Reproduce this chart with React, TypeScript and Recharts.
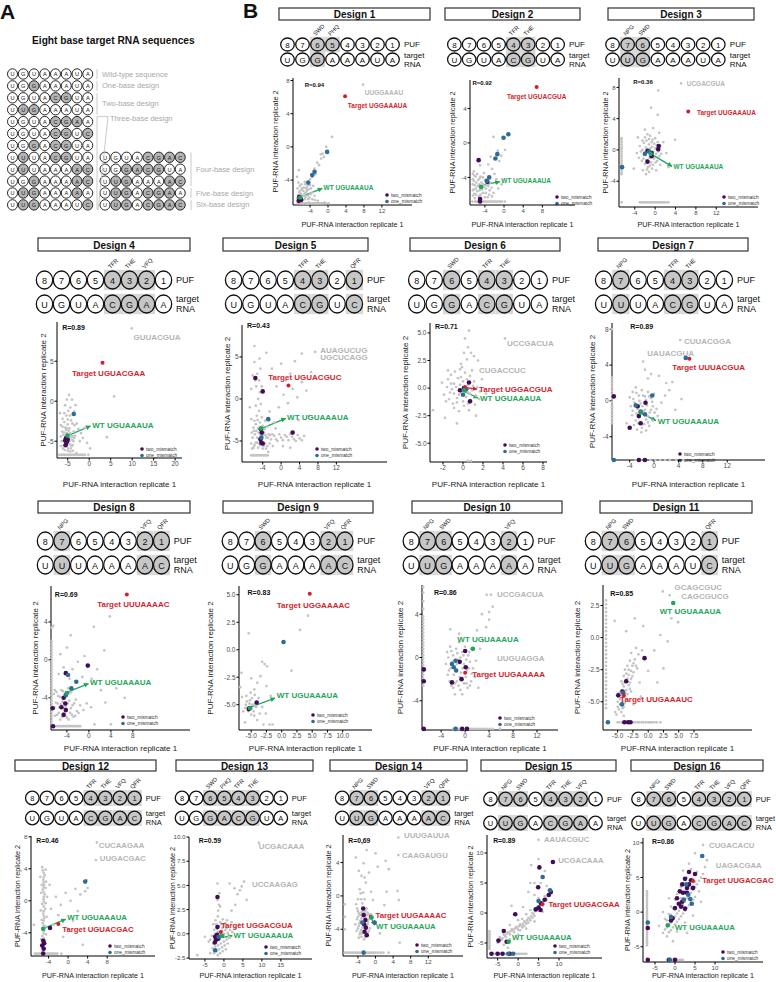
import React from 'react';
import { ScatterChart, Scatter, XAxis, YAxis, ReferenceLine } from 'recharts';

type P = [number, number];
type Note = { x: number; y: number; t: string; c: 'k' | 's' | 'r' | 'g'; a?: 'start' | 'middle' };
type Arrow = { f: P; to: P; c: 'g' | 'r' };

const COL = { grey: '#c4c4c4', two: '#420d57', one: '#2f6b95', red: '#d21f2e', green: '#1fa65a', seq: '#b5b5b5', k: '#111111' };
const FONT = '"Liberation Sans", Arial, Helvetica, sans-serif';

// ---------------- Panel A ----------------
const seqLeft = ['UGUAAAUA', 'UGGAAAUA', 'UGUACGUA', 'UUGAAAUA', 'UGUACGAA', 'UGUACGUC', 'UGGACGUA', 'UUUACGUA', 'UUUAAAAC', 'UGGAAAAC', 'UUGAAAAA', 'UUGAAAUC'];
const hlLeft: number[][] = [[], [2], [4, 5], [1, 2], [4, 5, 6], [4, 5, 7], [2, 4, 5], [1, 4, 5], [1, 6, 7], [2, 6, 7], [1, 2, 6], [1, 2, 7]];
const seqRight = ['UGUACGAC', 'UGGACGUA', 'UUGAAAAC', 'UUGACGAA', 'UUGACGAC'];
const hlRight: number[][] = [[4, 5, 6, 7], [2, 3, 4, 5], [1, 2, 6, 7], [1, 2, 4, 5, 6], [1, 2, 4, 5, 6, 7]];
const groupLeft = ['Wild-type sequence', 'One-base design', 'Two-base design', 'Three-base design'];
const groupRight = ['Four-base design', 'Five-base design', 'Six-base design'];
const pufTags: Record<number, string> = { 1: 'NPG', 2: 'SWD', 3: 'PHQ', 4: 'TFR', 5: 'THE', 6: 'VFQ', 7: 'QFR' };

// ---------------- Design data ----------------
const d1Grey: P[] = [[-6.8,-6.8],[-6.5,-6.6],[-6.2,-6.8],[-5.8,-6.7],[-5.4,-6.8],[-5,-6.8],[-4.6,-6.8],[-4.2,-6.7],[-3.8,-6.8],[-3.2,-6.8],[-2.6,-6.8],[-2,-6.8],[-1.4,-6.8],[-0.8,-6.7],[-6.8,-6.2],[-6.6,-5.8],[-6.4,-5.4],[-6.8,-5],[-6.3,-4.7],[-6,-5.2],[-5.7,-5.8],[-5.5,-5.3],[-5.2,-5.6],[-5,-6.1],[-4.8,-5.4],[-4.5,-5.9],[-4.3,-5.1],[-4.7,-4.8],[-5.9,-4.5],[-6.6,-4.3],[-6.9,-3.6],[-6.5,-2.8],[-5.2,-4.2],[-4,-4.6],[-3.5,-5.5],[-3,-5.9],[-6.1,-6.3],[-5.6,-6.4],[-5.2,-6.3],[-4.4,-6.3],[-3.6,-3.6],[-3,-2.6],[-2.4,-1.9],[-2,-2.2],[-1.5,-1.4],[-1.2,-0.8],[-0.4,0],[-0.9,-1.2],[0.9,1.2],[-1.6,-0.9],[-2.8,-3.3],[-4,-3.9],[7.8,7.5]];
const d1GreyCore: P[] = [[-6.9,-6.5],[-6.7,-6.1],[-6.3,-6.0],[-5.9,-6.1],[-5.6,-5.9],[-5.3,-5.9],[-5.0,-5.6],[-4.6,-5.2],[-4.9,-5.0],[-5.4,-4.9],[-5.8,-5.0],[-6.1,-5.6],[-6.4,-6.3],[-5.1,-4.5],[-4.4,-4.6],[-3.8,-5.0],[-3.3,-4.7],[-3.9,-5.7],[-4.1,-6.1],[-3.5,-6.3],[-2.9,-6.4],[-2.3,-6.5],[-1.7,-6.8],[-1.1,-6.8],[-0.5,-6.8],[0.1,-6.8],[-6.0,-6.8],[-5.6,-6.8],[-4.8,-6.8],[-4.4,-6.8],[-4.0,-6.8],[-3.5,-6.8],[-2.9,-6.8],[-2.3,-6.8]];
const d1Two: P[] = [[-6.4,-6.0],[-6.0,-6.4],[-6.5,-6.5],[-6.2,-6.2]];
const d1One: P[] = [[-0.2,-0.6],[-3.0,-3.0],[-3.5,-3.4],[-4.4,-4.3]];
const d1Target: P[] = [[3.8,6.1]];
const d1WT: P[] = [[-6.2,-6.1]];
const d1Notes: Note[] = [
  { x: -5.2, y: 7.5, t: 'R=0.94', c: 'k' },
  { x: 8.2, y: 6.6, t: 'UUGGAAAU', c: 's' },
  { x: 4.4, y: 5.0, t: 'Target UGGAAAUA', c: 'r' },
  { x: -1.0, y: -4.9, t: 'WT UGUAAAUA', c: 'g' },
];
const d1Arrows: Arrow[] = [{ f: [-5.9, -6.0], to: [-1.3, -5.0], c: 'g' }];

const d2Grey: P[] = [[-6.3,-3.3],[-6.2,-3.8],[-6.3,-4.4],[-6.1,-4.9],[-6.3,-5.4],[-6.2,-5.9],[-6.1,-6.4],[-5.6,-3.6],[-5.4,-4.3],[-5.5,-5.0],[-5.6,-5.6],[-5.3,-6.2],[-4.9,-3.9],[-4.7,-4.6],[-4.6,-5.4],[-4.9,-6.0],[-4.2,-5.1],[-4.0,-4.3],[-3.8,-5.8],[-3.6,-4.9],[-3.4,-6.3],[-3.0,-5.5],[-2.8,-4.6],[-5.8,-6.8],[-5.2,-6.8],[-4.6,-6.8],[-4,-6.8],[-3.4,-6.8],[-2.8,-6.8],[-2.2,-6.8],[-1.6,-6.8],[-1,-6.8],[-0.4,-6.8],[0.2,-6.8],[-2.2,0.7],[-1.3,-0.9],[-1.0,-2.1],[-2.5,-3.0],[-2.0,-3.6],[-1.6,-4.2],[-3.3,-2.5],[-4.2,-3.5],[-2.2,-5.8],[-1.2,-5.3],[-0.5,-4.8],[0.2,-0.8],[-0.6,-1.5],[-2.8,-1.6],[-6.6,-6.8],[-5.0,-2.6]];
const d2GreyCore: P[] = [[-6.5,-3.6],[-6.5,-4.2],[-6.5,-4.8],[-6.5,-5.5],[-6.5,-6.1],[-5.9,-3.9],[-5.8,-4.6],[-5.9,-5.3],[-5.9,-6.0],[-5.1,-4.1],[-5.2,-4.8],[-5.1,-5.5],[-5.0,-6.1],[-4.4,-4.0],[-4.3,-4.8],[-4.4,-5.8],[-4.0,-6.3],[-3.8,-5.3],[-3.3,-5.0],[-3.1,-6.0],[-2.6,-5.2],[-2.5,-6.2],[-6.0,-6.8],[-5.5,-6.8],[-4.9,-6.8],[-4.3,-6.8],[-3.7,-6.8],[-3.1,-6.8],[-2.5,-6.8],[-1.9,-6.8],[-1.3,-6.8],[-0.7,-6.8]];
const d2Two: P[] = [[-5.3,-2.0],[-3.5,-4.5],[-5.0,-6.5],[-5.0,-6.8]];
const d2One: P[] = [[0.9,1.0],[-0.1,0.6],[-1.4,-1.3],[-1.8,-1.8],[-3.1,-4.0],[-3.6,-4.4]];
const d2Target: P[] = [[6.8,6.5]];
const d2WT: P[] = [[-4.8,-5.1]];
const d2Notes: Note[] = [
  { x: -6.6, y: 6.9, t: 'R=0.92', c: 'k' },
  { x: 6.8, y: 5.4, t: 'Target UGUACGUA', c: 'r', a: 'middle' },
  { x: -0.6, y: -4.4, t: 'WT UGUAAAUA', c: 'g' },
];
const d2Arrows: Arrow[] = [{ f: [-4.5, -4.9], to: [-0.9, -4.5], c: 'g' }];

const d3Grey: P[] = [[-2.5,1.2],[-2,1.6],[-1.5,2.0],[-1,1.8],[-0.5,1.3],[0,1.5],[0.5,1.0],[1,0.5],[-3,0.5],[-2.8,-0.2],[-2.2,-0.6],[-1.8,0.3],[-1.2,0.7],[-0.6,0.4],[0,0.2],[0.6,-0.2],[1.2,-0.5],[-3.2,-1],[-2.6,-1.4],[-2,-1.8],[-1.4,-2.2],[-0.8,-1.6],[-0.2,-1.1],[0.4,-1.4],[1,-1.9],[-2.4,-2.6],[-1.8,-3.1],[-1.2,-2.8],[-0.6,-2.4],[0.2,-2.6],[-3.6,-0.4],[-3.4,1.6],[-2,2.6],[-0.4,2.8],[0.8,2.2],[1.6,1.0],[2.2,-0.4],[3.9,1.3],[2.6,-2.2],[-0.8,5.4],[0.5,4.5],[0.6,7.6],[-4.2,-2.4],[-6.6,1.5],[-6.6,1.0],[-6.6,0.4],[-6.6,-0.2],[-6.6,-0.8],[-6.6,-1.4],[-6.6,-2.0],[-6.6,-2.6],[-6.6,-3.1],[-6.6,-6.7],[-3,-6.7],[-2.4,-6.7],[-1.8,-6.7],[-1.2,-6.7],[-0.6,-6.7],[0,-6.7],[0.6,-6.7],[1.2,-6.7],[1.8,-6.7],[2.6,-6.7],[5.1,8.5]];
const d3GreyCore: P[] = [[-2.2,0.9],[-1.7,1.2],[-1.2,1.4],[-0.7,1.0],[-0.2,0.8],[0.3,0.6],[-2.5,0.0],[-2.0,-0.3],[-1.5,0.0],[-1.0,0.2],[-0.4,-0.2],[0.2,-0.5],[0.8,-0.8],[-2.3,-1.1],[-1.7,-1.3],[-1.1,-1.0],[-0.5,-0.7],[0.1,-1.6],[-1.6,-2.5],[-1.0,-2.0],[-0.4,-1.9],[-6.6,1.3],[-6.6,0.7],[-6.6,0.1],[-6.6,-0.5],[-6.6,-1.1],[-6.6,-1.7],[-6.6,-2.3],[-6.6,-2.9],[-2.7,-6.7],[-2.1,-6.7],[-1.5,-6.7],[-0.9,-6.7],[-0.3,-6.7],[0.3,-6.7],[0.9,-6.7],[1.5,-6.7],[2.2,-6.7]];
const d3Two: P[] = [[0.7,0.5],[0.6,0.1],[-0.7,-0.4],[-1.5,-0.1],[-0.7,-0.8],[-1.5,-1.5]];
const d3One: P[] = [[-6.5,-2.2],[-2,-0.5],[-1.2,-0.2]];
const d3Target: P[] = [[6.5,4.9]];
const d3WT: P[] = [[-0.9,-0.5]];
const d3Notes: Note[] = [
  { x: -4.3, y: 8.7, t: 'R=0.36', c: 'k' },
  { x: 6.2, y: 8.5, t: 'UCGACGUA', c: 's' },
  { x: 8.2, y: 4.8, t: 'Target UUGAAAUA', c: 'r' },
  { x: 3.6, y: -2.1, t: 'WT UGUAAAUA', c: 'g' },
];
const d3Arrows: Arrow[] = [{ f: [-0.6, -0.6], to: [3.3, -2.1], c: 'g' }];

const d4Grey: P[] = [[-6.2,-3.2],[-5.8,-2.6],[-5.4,-3.6],[-5,-2.9],[-4.6,-3.4],[-4.2,-2.4],[-6,-4.2],[-5.6,-4.6],[-5.2,-4],[-4.8,-4.4],[-4.4,-4],[-4,-4.8],[-3.6,-3.8],[-6.4,-5],[-5.9,-5.5],[-5.5,-5.2],[-4.9,-5.9],[-4.5,-5.4],[-4.1,-5.6],[-3.7,-5],[-3.3,-4.3],[-5.3,-1.8],[-4.9,-1.2],[-5.6,-0.5],[-4.4,-0.8],[-4.7,0.8],[-3.2,-0.5],[-3.5,-1.3],[-2.9,-2.8],[-2.5,-3.5],[-1.9,-4],[-1,-3.3],[-2.2,-5],[-1.5,-4.6],[-0.5,-5.2],[0.2,-5.9],[-3.8,-6.2],[-3,-6.5],[-7,-6.7],[-6.4,-6.7],[-5.8,-6.7],[-5.2,-6.7],[-4.6,-6.7],[-4,-6.7],[-3.4,-6.7],[-2.8,-6.7],[-2.2,-6.7],[-1.6,-6.7],[-1,-6.7],[-0.2,-6.7],[5.8,0.6],[4.1,-4.5],[9.9,9.1],[-6.8,-1.5],[-5.2,0.2],[-4,0.2]];
const d4GreyCore: P[] = [[-6.6,-4.4],[-6.3,-3.8],[-5.9,-3.9],[-5.6,-3.3],[-5.2,-3.4],[-4.8,-3.7],[-4.5,-4.5],[-4.2,-4.4],[-3.8,-4.4],[-3.5,-4.6],[-4.6,-5.0],[-4.3,-5.9],[-3.9,-5.5],[-6.1,-5.9],[-5.7,-6.1],[-5.0,-6.2],[-4.4,-6.3],[-6.6,-5.6],[-6.6,-3.0],[-6.2,-2.2],[-5.8,-1.5],[-5.0,-2.3],[-4.5,-1.8],[-3.9,-2.8],[-3.4,-3.0],[-6.7,-6.7],[-6.1,-6.7],[-5.5,-6.7],[-4.9,-6.7],[-4.3,-6.7],[-3.7,-6.7],[-3.1,-6.7],[-2.5,-6.7],[-1.9,-6.7],[-1.3,-6.7]];
const d4Two: P[] = [[-5.4,-4.6],[-5.2,-5.0],[-5.5,-5.5],[-5.0,-4.8],[-5.3,-5.2],[-5.6,-4.9]];
const d4One: P[] = [[-3.6,-1.6]];
const d4Target: P[] = [[3.1,4.8]];
const d4WT: P[] = [[-5.1,-4.3]];
const d4Notes: Note[] = [
  { x: -6.3, y: 9.2, t: 'R=0.89', c: 'k' },
  { x: 10.3, y: 8.0, t: 'GUUACGUA', c: 's' },
  { x: -4.0, y: 3.5, t: 'Target UGUACGAA', c: 'r' },
  { x: 0.7, y: -3.0, t: 'WT UGUAAAUA', c: 'g' },
];
const d4Arrows: Arrow[] = [{ f: [-5.0, -4.3], to: [0.3, -3.1], c: 'g' }];

const d5Grey: P[] = [[-6,-5.8],[-5.5,-5.2],[-5,-5.8],[-4.5,-5.5],[-4,-5.9],[-3.5,-5.3],[-3,-5.6],[-6.2,-4.6],[-5.7,-4.2],[-5.2,-4.6],[-4.7,-4.1],[-4.2,-4.5],[-3.7,-4],[-3.2,-4.6],[-2.7,-4.2],[-6,-3.4],[-5.5,-3],[-5,-3.5],[-4.6,-2.8],[-4,-3.2],[-3.5,-2.6],[-3,-3.3],[-5.3,-2],[-4.8,-1.4],[-4.4,-0.6],[-5,0],[-4.6,0.8],[-5.4,1.5],[-4.8,2.2],[-5.2,3],[-4.5,3.6],[-5.8,4.4],[-4.7,4.8],[-6.5,1.2],[-6.8,-1],[-6.5,-2.4],[-6.5,-6.7],[-5.9,-6.7],[-5.3,-6.7],[-4.7,-6.7],[-4.1,-6.7],[-3.5,-6.7],[-2.9,-6.7],[-2.2,-4.8],[-1.5,-4.4],[-0.8,-5],[0,-4.6],[0.8,-4.3],[1.6,-4.9],[2.4,-4.5],[3.2,-5],[4,-4.7],[5,-4.4],[-1.8,-5.6],[0.4,-5.6],[2,-5.8],[-2.5,-1.5],[-1.5,-2.8],[-0.5,-1],[0.5,0.5],[1.5,-0.5],[2.5,1.2],[3.5,0.2],[4.5,2],[5.5,1],[6.5,3.2],[2,3],[1,2.2],[-1,1.5],[-2,3.6],[0,4.2],[3,4.5],[4.5,5.4],[7.4,5.6],[-5.8,6.3],[-3.2,5.5],[-1.2,-3.5],[3.8,-2.5],[6,-2],[-2.8,-6.3],[-6.2,2.8]];
const d5GreyCore: P[] = [[-6.5,-5.3],[-6.3,-5.9],[-5.8,-5.5],[-5.2,-5.2],[-4.8,-5.3],[-3.8,-5.6],[-3.3,-5.9],[-2.5,-5.3],[-6.4,-4.0],[-5.9,-3.8],[-5.4,-3.8],[-4.9,-4.0],[-4.4,-4.3],[-3.9,-4.3],[-3.4,-4.3],[-2.9,-4.6],[-2.4,-4.3],[-5.8,-2.6],[-5.1,-2.5],[-4.2,-2.2],[-3.6,-3.6],[-5.5,-0.8],[-4.2,1.5],[-5.6,2.2],[-1.9,-4.2],[-1.1,-4.8],[-0.4,-4.2],[0.4,-4.9],[1.2,-4.5],[2.0,-4.2],[2.8,-4.8],[3.6,-4.3],[4.5,-4.9],[-6.2,-6.7],[-5.6,-6.7],[-5.0,-6.7],[-4.4,-6.7],[-3.8,-6.7],[-3.2,-6.7]];
const d5Two: P[] = [[-5.6,2.5],[-4.0,0.9],[-4.4,-3.6],[-4.2,-4.0],[-4.5,-4.8],[-4.3,-5.2],[-4.0,-5.3],[2.5,-4.0]];
const d5One: P[] = [[-2.8,-2.4],[-4.3,-4.6]];
const d5Target: P[] = [[1.6,1.6]];
const d5WT: P[] = [[-4.4,-3.5]];
const d5Notes: Note[] = [
  { x: -7.4, y: 8.7, t: 'R=0.43', c: 'k' },
  { x: 8.5, y: 5.8, t: 'AUAGUCUG', c: 's' },
  { x: 8.5, y: 4.9, t: 'UGCUCAGG', c: 's' },
  { x: -2.8, y: 2.6, t: 'Target UGUACGUC', c: 'r' },
  { x: 1.3, y: -2.2, t: 'WT UGUAAAUA', c: 'g' },
];
const d5Arrows: Arrow[] = [{ f: [-4.2, -3.5], to: [1.0, -2.3], c: 'g' }];

const d6Grey: P[] = [[-1.5,0.8],[-1.2,1.2],[-0.8,1.5],[-0.3,1.7],[0.2,1.4],[0.7,1.1],[1.1,0.6],[1.4,0.1],[-1.6,0.1],[-1.3,-0.4],[-0.9,0.4],[-0.5,0.9],[0,0.6],[0.5,0.3],[0.9,-0.2],[1.3,-0.7],[-1.4,-1],[-1,-1.4],[-0.6,-0.9],[-0.2,-0.4],[0.3,-0.8],[0.8,-1.1],[1.2,-1.5],[-0.9,-1.8],[-0.4,-2.1],[0.1,-1.6],[0.6,-2],[-1.9,-0.6],[-2.1,0.5],[1.7,-0.3],[1.9,0.8],[-0.2,2.2],[0.4,2.6],[0.1,3.2],[0.5,3.7],[0.2,4.5],[0.6,5.2],[0.8,3.2],[1.1,2.9],[-3,-2],[-0.6,-3.2],[0.5,-6.6],[0.8,-6.6],[4.2,4.5],[1.3,-2.5],[2.3,-0.5],[-1.8,-2.7],[1.5,2.5]];
const d6GreyCore: P[] = [[-1.2,0.4],[-0.7,0.1],[-0.3,0.3],[0.3,0.1],[0.7,-0.5],[-0.9,-0.5],[-0.4,-0.6],[0.5,-0.4],[1.0,0.2],[-1.1,-0.1],[-0.2,1.0],[0.4,0.8],[-0.6,-1.3],[0.0,-1.2],[0.5,-1.4],[-1.7,-1.2],[1.6,-1.0],[-0.1,1.9],[0.9,1.6],[-1.5,1.6]];
const d6Two: P[] = [[0.6,0.5],[0.7,-1.2],[-0.3,-0.2],[0.1,0],[0.3,-0.1]];
const d6One: P[] = [[0,-0.6],[0.3,-0.1]];
const d6Target: P[] = [[0.2,0.1]];
const d6WT: P[] = [[0.1,-0.2]];
const d6Notes: Note[] = [
  { x: -2.8, y: 5.6, t: 'R=0.71', c: 'k' },
  { x: 4.4, y: 4.0, t: 'UCCGACUA', c: 's' },
  { x: 1.6, y: 1.6, t: 'CUGACCUC', c: 's' },
  { x: 1.6, y: -0.1, t: 'Target UGGACGUA', c: 'r' },
  { x: 1.7, y: -0.9, t: 'WT UGUAAAUA', c: 'g' },
];
const d6Arrows: Arrow[] = [
  { f: [0.3, 0.05], to: [1.4, -0.1], c: 'r' },
  { f: [0.1, -0.3], to: [1.5, -0.9], c: 'g' },
];

const d7Grey: P[] = [[-6.9,2.6],[-6.9,2.0],[-6.9,1.4],[-6.9,0.8],[-6.9,0.2],[-6.9,-0.4],[-6.9,-1.0],[-6.9,-1.6],[-6.9,-2.2],[-6.9,8.0],[-4,0.4],[-3.5,1],[-3,1.5],[-2.5,0.6],[-2,1.2],[-1.5,0.5],[-1,1.0],[-0.5,0.3],[0,0.8],[-3.8,-0.6],[-3.2,-0.2],[-2.7,-0.9],[-2.2,-0.3],[-1.7,-1.1],[-1.2,-0.5],[-0.7,-1.3],[-0.2,-0.6],[0.4,-0.9],[-3.6,-1.6],[-3,-2.2],[-2.4,-1.8],[-1.9,-2.6],[-1.3,-2.1],[-0.8,-2.8],[-0.2,-2.2],[0.6,-1.7],[-2.8,-3.2],[-2.1,-3.5],[-1.3,-3.3],[1.2,-0.2],[1.8,0.6],[2.5,1.2],[3,2.1],[-1,2.5],[-1.5,3.5],[-1.8,4.4],[-0.5,3],[0.8,2.8],[2,2],[4.5,0.2],[3.5,-1],[-4.5,-2.5],[-3,-6.6],[-2.2,-6.6],[-1.4,-6.6],[-0.6,-6.6],[0.2,-6.6],[1,-6.6],[1.8,-6.6],[2.6,-6.6],[3.6,-6.6],[4.8,-6.6],[4.3,6.8]];
const d7GreyCore: P[] = [[-3.4,0.2],[-2.9,0.9],[-2.4,0.0],[-1.8,0.6],[-1.3,0.1],[-0.8,0.5],[-0.3,-0.1],[-3.5,-1.1],[-2.9,-1.4],[-2.5,-0.6],[-1.9,-0.6],[-1.5,-1.0],[-1.0,-1.7],[-0.5,-1.0],[0.1,-1.3],[-3.3,-2.7],[-2.6,-2.5],[-1.6,-2.6],[-1.0,-2.4],[-2.0,-3.0],[-6.9,2.3],[-6.9,1.7],[-6.9,1.1],[-6.9,0.5],[-6.9,-0.1],[-6.9,-0.7],[-6.9,-1.3],[-6.9,-1.9],[-6.9,-2.5]];
const d7Two: P[] = [[-6.6,0.5],[-4,-3],[-2.7,-0.6],[-1.4,-0.2],[-2.5,-1.7],[-2.2,-2.5],[-2.5,-6.6],[-1.5,-6.6]];
const d7One: P[] = [[-3,-0.5],[-0.3,0.6],[-2.2,-1.2],[-1.5,-1.5],[5.2,4.8],[-6.6,-6.6]];
const d7Target: P[] = [[5.8,4.7]];
const d7WT: P[] = [[-2.2,-1.3]];
const d7Notes: Note[] = [
  { x: -3.9, y: 8.3, t: 'R=0.89', c: 'k' },
  { x: 4.9, y: 6.6, t: 'CUUACGGA', c: 's' },
  { x: -1.1, y: 5.3, t: 'UAUACGUA', c: 's' },
  { x: 3.0, y: 3.7, t: 'Target UUUACGUA', c: 'r' },
  { x: 0.6, y: -2.3, t: 'WT UGUAAAUA', c: 'g' },
];
const d7Arrows: Arrow[] = [{ f: [-2.0, -1.4], to: [0.3, -2.2], c: 'g' }];

const d8Grey: P[] = [[-6.8,2],[-6.8,1.4],[-6.8,0.8],[-6.8,0.2],[-6.8,-0.4],[-6.8,-1],[-6.8,-1.6],[-6.8,-2.2],[-6.8,-2.8],[-6.8,-3.4],[-6.8,-4],[-6.8,-4.6],[-6.8,-5.2],[-6.8,-5.8],[-6.8,-6.4],[-6.8,3.4],[-5.8,-7],[-5.2,-7],[-4.6,-7],[-4,-7],[-3.4,-7],[-2.8,-7],[-2.2,-7],[-1.6,-7],[-6.2,-3.2],[-5.6,-3.8],[-5,-3.2],[-4.4,-3.6],[-3.8,-3],[-3.2,-3.4],[-6,-4.5],[-5.4,-5],[-4.8,-4.4],[-4.2,-4.9],[-3.6,-4.3],[-3,-4.8],[-2.4,-4.2],[-5.8,-5.8],[-5.2,-6.3],[-4.6,-5.6],[-4,-6.1],[-3.4,-5.6],[-2.8,-6],[-2.2,-5.4],[-1.6,-4.8],[-1,-5.3],[-0.4,-4.6],[0.4,-5],[3.8,4.6],[0.9,3.5],[-3.3,2.6],[-6.5,3.6],[-4,1.3],[-5.2,0.6],[-4.6,-0.8],[-3,-1],[-2,-0.2],[-1.2,-1.8],[0.5,-2],[1.5,-1],[2.2,-3.2],[3,-4.5],[5,-3],[6.5,-4],[4,-6.8],[1,-6.8],[-5.5,-1.5],[-3.5,-2],[2.8,1],[-0.8,0.4]];
const d8GreyCore: P[] = [[-6.8,-6.7],[-6.8,-6.1],[-6.8,-5.5],[-6.8,-4.9],[-6.8,-4.3],[-6.8,-3.7],[-6.8,-3.1],[-6.8,-2.5],[-6.8,-1.9],[-6.8,-1.3],[-6.8,-0.7],[-6.8,-0.1],[-6.8,0.5],[-6.8,1.1],[-6.8,1.7],[-6.4,-3.6],[-5.9,-3.4],[-5.3,-3.9],[-4.7,-3.3],[-4.1,-3.9],[-3.5,-3.5],[-6.3,-5.0],[-5.7,-4.6],[-5.1,-4.7],[-4.5,-5.1],[-3.9,-4.6],[-3.3,-5.1],[-2.7,-4.6],[-6.2,-5.9],[-5.5,-5.6],[-4.9,-6.0],[-4.3,-5.9],[-3.7,-6.3],[-3.1,-5.8],[-2.5,-5.9],[-1.9,-5.6],[-5.5,-7],[-4.9,-7],[-4.3,-7],[-3.7,-7],[-3.1,-7],[-2.5,-7],[-1.9,-7]];
const d8Two: P[] = [[-0.2,-0.6],[-4.2,-1.4],[-4.6,-4],[-4.3,-4.6],[-5,-5],[-4.2,-5.3],[-4.6,-5.8],[-6.6,-5.1],[-6.5,-7]];
const d8One: P[] = [[-3.8,-1.6],[-2.3,-2.3],[-3.2,-3],[-4.2,-3.7]];
const d8Target: P[] = [[6.9,6.9]];
const d8WT: P[] = [[-4,-3.5]];
const d8Notes: Note[] = [
  { x: -6.2, y: 6.9, t: 'R=0.69', c: 'k' },
  { x: 1.5, y: 5.8, t: 'Target UUUAAAAC', c: 'r' },
  { x: 0.2, y: -2.4, t: 'WT UGUAAAUA', c: 'g' },
];
const d8Arrows: Arrow[] = [{ f: [-3.9, -3.4], to: [-0.1, -2.5], c: 'g' }];

const d9Grey: P[] = [[4.3,3.1],[3,1.8],[1.6,-1.9],[-5.4,1.5],[-3.2,-1.1],[-2.4,-1.5],[-2.8,-1.3],[-4,-3],[-3.5,-2.4],[-6.6,-2.1],[-5,-2.6],[-4.5,-3.6],[-5.8,-4.2],[-5.2,-4.6],[-4.8,-5.0],[-5.5,-5.6],[-4.6,-5.6],[-4.2,-5.2],[-5.9,-5],[-6.3,-5.6],[-3.8,-4.4],[-3.2,-5.2],[-2.6,-5.8],[-6,-6.6],[-4,-6.4],[-3,-6.8],[-2,-6.8],[-1.5,-6.8],[-6.8,-3.4],[-6.5,-4.3],[-2.5,-3.3],[-1.8,-4.2],[-4.4,-4.1],[-5.1,-3.9]];
const d9GreyCore: P[] = [[-5.6,-5.2],[-5.0,-5.4],[-4.4,-5.0],[-5.3,-4.9],[-4.9,-4.4],[-5.7,-4.7],[-6.0,-5.3],[-5.0,-5.9],[-4.5,-6.0],[-3.6,-5.8]];
const d9Two: P[] = [[-4.1,-4.8],[-5.4,-5.4],[-5.2,-5.3]];
const d9One: P[] = [[0.3,0.7]];
const d9Target: P[] = [[4.6,5.1]];
const d9WT: P[] = [[-5.2,-5.3]];
const d9Notes: Note[] = [
  { x: -5.6, y: 5.2, t: 'R=0.83', c: 'k' },
  { x: -0.8, y: 4.0, t: 'Target UGGAAAAC', c: 'r' },
  { x: -0.8, y: -4.2, t: 'WT UGUAAAUA', c: 'g' },
];
const d9Arrows: Arrow[] = [{ f: [-5.0, -5.2], to: [-1.1, -4.4], c: 'g' }];

const d10Grey: P[] = [[-7,6.5],[-7,5.2],[-7,3.8],[-7,3.2],[-7,2.6],[-7,2],[-7,1.4],[-7,0.8],[-7,0.2],[-7,-0.4],[-7,-1],[-7,-1.6],[-7,-2.2],[-7,-2.6],[-3,0.5],[-2.5,1],[-2,0.2],[-1.5,0.8],[-1,1.4],[-0.5,0.5],[0,1],[0.5,0.2],[1,0.8],[-3.2,-0.6],[-2.7,-1.2],[-2.2,-0.4],[-1.7,-1],[-1.2,-0.2],[-0.7,-1.4],[-0.2,-0.6],[0.3,-1.2],[0.8,-0.4],[1.3,-1],[1.8,-0.3],[-2.6,-2.2],[-2,-2.8],[-1.4,-2.2],[-0.8,-3],[-0.2,-2.4],[0.4,-2.8],[1,-2.2],[1.6,-1.8],[-1.7,-3.4],[-0.5,-3.4],[2.2,-2.8],[2.5,0.8],[3,1.5],[2,2.5],[3.5,2.8],[4,3.5],[4.6,4.7],[2.8,4],[3.6,5.8],[-1,2.2],[-2.5,2.6],[4.3,5.8],[4,4.2],[3.2,-1.5],[-2,-6.6],[-1.2,-6.6],[-0.4,-6.6],[0.4,-6.6],[1.2,-6.6],[2,-6.6],[2.8,-6.6],[3.6,-6.6],[4.6,-6.6],[5.8,-6.6]];
const d10GreyCore: P[] = [[-2.8,0.0],[-2.3,0.6],[-1.8,-0.3],[-1.3,0.4],[-0.8,0.0],[-0.3,0.2],[0.2,-0.2],[0.7,0.5],[-2.9,-1.6],[-2.4,-1.0],[-1.9,-1.6],[-1.4,-0.6],[-0.9,-1.8],[-0.4,-1.0],[0.1,-1.8],[0.6,-1.0],[1.1,-1.5],[-2.3,-2.6],[-1.7,-2.4],[-1.1,-2.6],[-0.5,-2.0],[0.2,-2.4],[0.8,-2.6],[-7,6.0],[-7,4.5],[-7,3.5],[-7,2.9],[-7,2.3],[-7,1.7],[-7,1.1],[-7,0.5],[-7,-0.1],[-7,-0.7],[-7,-1.3],[-7,-1.9],[-1.6,-6.6],[-0.8,-6.6],[0.0,-6.6],[0.8,-6.6],[1.6,-6.6],[2.4,-6.6],[3.2,-6.6],[4.1,-6.6]];
const d10Two: P[] = [[0,0.6],[0.1,-0.9],[-0.6,-2],[-2.2,-2.3],[-0.9,-0.4],[-6.9,-1.1],[-6.9,-2.2],[-6.9,-6.6],[-0.5,-6.6],[0.3,-6.6]];
const d10One: P[] = [[-1.6,-0.3],[-2.2,-0.6],[-1.9,-0.9],[-1.5,-1.2],[-1.6,-6.6]];
const d10Target: P[] = [[0,-1.4]];
const d10WT: P[] = [[1.3,0.8]];
const d10Notes: Note[] = [
  { x: -5.2, y: 6.0, t: 'R=0.86', c: 'k' },
  { x: 5.3, y: 5.8, t: 'UCCGACUA', c: 's' },
  { x: 5.3, y: -0.1, t: 'UUGUAGGA', c: 's' },
  { x: -1.3, y: 1.7, t: 'WT UGUAAAUA', c: 'g' },
  { x: 1.2, y: -1.6, t: 'Target UUGAAAAA', c: 'r' },
];
const d10Arrows: Arrow[] = [];

const d11Grey: P[] = [[-6.9,2.9],[-6.9,2.3],[-6.9,1.7],[-6.9,1.1],[-6.9,0.5],[-6.9,-0.1],[-6.9,-0.7],[-6.9,-1.3],[-6.9,-1.9],[-6.9,-2.5],[-6.9,-3.1],[-6.9,-3.7],[-6.9,-4.3],[-6.9,-4.9],[-6.9,-5.5],[-5.2,-6],[-4.8,-5.6],[-4.4,-5.8],[-4,-5.4],[-5,-5],[-4.6,-4.8],[-4.2,-5],[-3.8,-4.6],[-3.4,-4.9],[-4.8,-4.3],[-4.4,-4.1],[-4,-3.8],[-3.6,-4.1],[-3.2,-3.7],[-2.8,-4.2],[-4.4,-3.4],[-4,-3],[-3.6,-3.3],[-3.2,-2.9],[-2.8,-3.2],[-2.4,-2.7],[-3.8,-2.5],[-3.4,-2.2],[-3,-1.8],[-2.6,-2.2],[-2.2,-1.7],[-1.8,-2.4],[-2.8,-1.2],[-2,-0.8],[-1.6,-1.3],[-5.5,1.3],[-3.6,0.5],[-2.2,1.5],[-1,-1],[1,-1],[-0.8,0.9],[2,0.2],[4.9,1.2],[3.2,-0.3],[-1.4,-3.5],[0,-2.6],[2.5,-2.4],[1.5,-3.5],[-2.4,-5.2],[-1.2,-4.6],[-5,-6.6],[-4.3,-6.6],[-2.5,-6.6],[-1.8,-6.6],[-1.1,-6.6],[-0.4,-6.6],[0.3,-6.6],[1,-6.6],[2,-6.6],[2.4,3.6],[3.5,3.3],[4.5,2.0],[3.8,1.5]];
const d11GreyCore: P[] = [[-5.0,-5.4],[-4.6,-5.2],[-4.2,-5.5],[-3.8,-5.1],[-4.6,-4.4],[-4.2,-4.6],[-3.8,-4.3],[-3.4,-4.4],[-3.0,-4.0],[-4.2,-3.6],[-3.8,-3.5],[-3.4,-3.2],[-3.0,-3.5],[-2.6,-3.0],[-3.6,-2.8],[-3.2,-2.5],[-2.8,-2.6],[-2.4,-2.0],[-2.0,-2.2],[-5.4,-5.8],[-4.0,-6.1],[-6.9,2.6],[-6.9,2.0],[-6.9,1.4],[-6.9,0.8],[-6.9,0.2],[-6.9,-0.4],[-6.9,-1.0],[-6.9,-1.6],[-6.9,-2.2],[-6.9,-2.8],[-6.9,-3.4],[-6.9,-4.0],[-6.9,-4.6],[-6.9,-5.2],[-4.7,-6.6],[-2.2,-6.6],[-1.5,-6.6],[-0.8,-6.6],[0.0,-6.6],[0.6,-6.6],[1.4,-6.6]];
const d11Two: P[] = [[-0.6,-1.6],[-3.6,-3.4],[-4.2,-4.2],[-4.9,-4.5],[-3.3,-6.6],[-3.9,-6.6],[-2.9,-6.6]];
const d11One: P[] = [[-4.3,-5.2],[-4.1,-4.3],[-6.6,-6.6]];
const d11Target: P[] = [[-4.0,-4.5]];
const d11WT: P[] = [[4.1,2.7]];
const d11Notes: Note[] = [
  { x: -6.2, y: 3.4, t: 'R=0.85', c: 'k' },
  { x: 4.3, y: 3.9, t: 'GCAGCGUC', c: 's' },
  { x: 5.4, y: 3.2, t: 'CAGCGUCG', c: 's' },
  { x: 1.9, y: 2.0, t: 'WT UGUAAAUA', c: 'g' },
  { x: -4.6, y: -4.8, t: 'Target UUGAAAUC', c: 'r' },
];
const d11Arrows: Arrow[] = [];

const d12Grey: P[] = [[-5.2,3.8],[-4.8,3.2],[-5.1,2.6],[-4.9,2.0],[-5.2,1.4],[-4.8,0.8],[-5,0.2],[-5.3,-0.4],[-4.7,-1],[-5.1,-1.6],[-4.9,-2.2],[-5.2,-2.8],[-4.6,-3.2],[-5,-3.8],[-5.3,-4.4],[-4.7,-5],[-5,-5.6],[-5.2,-6.2],[-4.4,-2],[-4.3,0.5],[-5.6,-1.2],[-5.5,1],[-4.5,2.4],[-5.7,3],[-3.5,-1],[-2.5,0.5],[-1.5,-0.5],[-0.5,1],[0.5,0],[1.5,1.5],[2.5,0.8],[3.5,1.2],[-3,-3],[-2,-1.8],[-1,-4.5],[0,-3.5],[1,-2.5],[2,-1.3],[3,-5.5],[-7,-3],[-3.8,2],[3.8,2.6],[5.9,7.3],[5.7,5.1],[4,1.6],[-6.8,-6.6],[-6.2,-6.6],[-5.6,-6.6],[-4,-6.6],[-3.4,-6.6],[-2.8,-6.6],[-2.2,-6.6],[-1.4,-6.6]];
const d12GreyCore: P[] = [[-5.0,3.5],[-5.0,2.9],[-5.0,2.3],[-5.0,1.7],[-5.0,1.1],[-5.0,0.5],[-5.0,-0.1],[-5.0,-0.7],[-5.0,-1.3],[-5.0,-1.9],[-5.0,-2.5],[-5.0,-3.1],[-5.0,-3.6],[-5.0,-4.1],[-5.0,-4.7],[-5.0,-5.3],[-5.0,-5.9],[-4.6,1.6],[-5.4,2.0],[-4.6,-0.3],[-5.4,-2.4],[-4.5,-4.2],[-5.5,-4.8],[-4.6,3.9],[-5.3,4.2],[-6.5,-6.6],[-5.9,-6.6],[-5.3,-6.6],[-4.7,-6.6],[-4.3,-6.6],[-3.7,-6.6],[-3.1,-6.6],[-2.5,-6.6]];
const d12Two: P[] = [[-3.7,-3.4],[-5.1,-5],[-5.3,-5.6],[-5,-6],[-5.1,-6.6],[-4.9,-5.3]];
const d12One: P[] = [[3.5,2.4]];
const d12Target: P[] = [[-2,-2.9]];
const d12WT: P[] = [[-5.1,-3.5]];
const d12Notes: Note[] = [
  { x: -6.5, y: 7.5, t: 'R=0.46', c: 'k' },
  { x: 6.3, y: 6.9, t: 'CUCAAGAA', c: 's' },
  { x: 6.5, y: 5.25, t: 'UUGACGAC', c: 's' },
  { x: -0.2, y: -2.1, t: 'WT UGUAAAUA', c: 'g' },
  { x: -1.2, y: -3.6, t: 'Target UGUACGAC', c: 'r' },
];
const d12Arrows: Arrow[] = [{ f: [-4.8, -3.4], to: [-0.5, -2.3], c: 'g' }];

const d13Grey: P[] = [[-3,-1.5],[-2.5,-0.8],[-2,-1.8],[-1.5,-1.2],[-1,-2],[-0.5,-1.4],[0,-0.8],[0.5,-1.6],[1,-1],[-3.2,-0.2],[-2.6,0.4],[-2.1,-0.3],[-1.6,0.2],[-1.1,-0.5],[-0.6,0.3],[-0.1,-0.2],[0.4,0.4],[1,0.1],[1.6,-0.4],[2.2,0.2],[-2.8,1],[-2.2,1.4],[-1.6,1.8],[-1,1.2],[-0.3,1.5],[0.4,1.1],[1.2,0.8],[2,1.2],[3,0.6],[4,1],[-4,-0.8],[-5,-0.3],[-7,-2.2],[-3.6,-2],[-1.5,2.4],[-1.3,3],[-1.7,3.5],[-1.2,4.2],[-1.7,5.2],[-1,2.8],[2.8,4.7],[4.2,4.5],[5.3,5.4],[4.7,4.9],[1.5,5.2],[3,3],[2,2.4],[6,3.5],[9.2,9.4],[3.6,4.1]];
const d13GreyCore: P[] = [[-2.8,-1.0],[-2.3,-1.3],[-1.8,-0.7],[-1.3,-1.6],[-0.8,-1.0],[-0.3,-1.8],[0.2,-1.2],[0.7,-0.6],[-2.4,0.0],[-1.9,0.5],[-1.4,-0.2],[-0.9,0.1],[-0.4,0.6],[0.1,0.0],[0.7,0.6],[1.3,-0.3],[-2.0,1.0],[-1.3,0.8],[-0.7,1.0],[0.0,0.9],[0.8,1.4],[1.6,0.4],[-3.6,-0.6],[-2.6,-2.0],[-1.6,-2.2]];
const d13Two: P[] = [[-1.7,3.8],[-1.7,0.7],[-2.3,-0.3],[-2.1,-0.6],[-1.5,-0.5],[-1.8,-0.1],[-2.4,-0.9]];
const d13One: P[] = [[-2.3,-1.7],[-1.4,-0.3]];
const d13Target: P[] = [[-0.8,0.2]];
const d13WT: P[] = [[-0.5,-0.2]];
const d13Notes: Note[] = [
  { x: -6.6, y: 9.6, t: 'R=0.59', c: 'k' },
  { x: 9.2, y: 9.0, t: 'UCGACAAA', c: 's' },
  { x: 7.4, y: 5.05, t: 'UCCAAGAG', c: 's' },
  { x: -0.8, y: 0.9, t: 'Target UGGACGUA', c: 'r' },
  { x: 2.5, y: -0.2, t: 'WT UGUAAAUA', c: 'g' },
];
const d13Arrows: Arrow[] = [{ f: [-0.7, -0.4], to: [2.2, -0.2], c: 'g' }];

const d14Grey: P[] = [[-4,-1.8],[-3.5,-2.3],[-3,-1.6],[-2.5,-2.1],[-2,-1.5],[-1.5,-2.2],[-4.2,-2.8],[-3.7,-3.3],[-3.2,-2.7],[-2.7,-3.2],[-2.2,-2.6],[-1.7,-3.1],[-1.2,-2.5],[-4,-3.9],[-3.5,-4.4],[-3,-3.8],[-2.5,-4.3],[-2,-3.7],[-1.5,-4.2],[-3.8,-5],[-3.2,-4.9],[-2.6,-5.2],[-2,-4.8],[-4.6,-3.4],[-4.4,-1],[-3.3,-0.4],[-2.8,0.4],[-3.6,0.8],[-4.5,4.6],[-2.7,3.9],[0,5.1],[-3.2,2.4],[-2.2,1.6],[-1.5,2.8],[-1,0.5],[-0.6,-0.5],[-2.5,2.2],[-3.8,3],[-2,5.5],[-3,6.3],[0.5,3.5],[2.3,4.2],[3,3.2],[2.5,0.5],[2,-1.1],[5,0.6],[5.3,-0.5],[5.5,-5.6],[1,-4.5],[0,-3.2],[-7,-6.8],[-6.2,-6.8],[-5.4,-6.8],[-4.6,-6.8],[-3.8,-6.8],[-2,-6.8],[-1.2,-6.8],[-0.4,-6.8],[0.6,-6.8],[1.8,-6.8],[3,-6.8],[-7,-1],[-7,-2.5],[-7,-4],[5.2,7.0],[5.2,4.9]];
const d14GreyCore: P[] = [[-3.8,-2.1],[-3.3,-2.0],[-2.8,-1.9],[-2.3,-1.8],[-1.8,-2.0],[-4.0,-2.5],[-3.5,-3.0],[-3.0,-2.4],[-2.5,-2.9],[-2.0,-2.3],[-1.5,-2.8],[-1.0,-2.2],[-3.8,-3.6],[-3.3,-4.1],[-2.8,-3.5],[-2.3,-4.0],[-1.8,-3.4],[-1.3,-3.9],[-3.6,-4.6],[-3.0,-4.5],[-2.4,-4.9],[-1.8,-4.4],[-4.3,-4.2],[-4.2,-1.5],[-3.0,-0.9],[-2.5,-0.4],[-4.0,-0.4],[-3.4,0.3],[-6.6,-6.8],[-5.8,-6.8],[-5.0,-6.8],[-4.2,-6.8],[-3.4,-6.8],[-1.6,-6.8],[-0.8,-6.8],[0.0,-6.8],[1.2,-6.8]];
const d14Two: P[] = [[-2.7,-2.3],[-2.3,-2.9],[-2.6,-3.4],[-2.2,-3.8],[-2.5,-4.3],[-2,-4.7],[-2.8,-1.5]];
const d14One: P[] = [[-3,-3.2],[-0.2,-3.2],[-2.7,-6.8]];
const d14Target: P[] = [[-1.1,-2.5]];
const d14WT: P[] = [[-0.9,-2.6]];
const d14Notes: Note[] = [
  { x: -6.2, y: 6.6, t: 'R=0.69', c: 'k' },
  { x: 6.5, y: 7.2, t: 'UUUGAUUA', c: 's' },
  { x: 6.0, y: 4.9, t: 'CAAGAUGU', c: 's' },
  { x: 0.0, y: -2.3, t: 'Target UUGAAAAC', c: 'r' },
  { x: 0.1, y: -3.7, t: 'WT UGUAAAUA', c: 'g' },
];
const d14Arrows: Arrow[] = [{ f: [-0.9, -2.8], to: [-0.1, -3.5], c: 'g' }];

const d15Grey: P[] = [[-5,-5],[-4,-4.5],[-3,-4],[-2,-3.6],[-1,-3.2],[0,-2.8],[1,-2.4],[2,-1.8],[3,-1.2],[4,-0.5],[5,0.4],[6,1.2],[7,2.2],[8,3.2],[-4.5,-4],[-3.5,-3.6],[-2.5,-3.2],[-1.5,-2.7],[-0.5,-2.3],[0.5,-1.9],[1.5,-1.4],[2.5,-0.8],[3.5,0],[4.5,0.8],[5.5,1.8],[6.5,2.8],[7.5,3.8],[-2,-4.4],[0,-3.6],[2,-2.6],[4,-1.4],[6,0.2],[1,-1],[3,0.5],[5,2.5],[7,4.5],[4,3],[3,5],[2,-0.2],[0,-1.2],[-2,-2],[-0.6,-0.2],[-1.6,1.2],[4,5],[3.2,8],[5,9],[6.5,7],[2.5,3.5],[1.2,1],[-3.5,-5.3],[-2.5,-5.8],[5.5,5],[-7,-3],[-7,-3.6],[-7,-4.2],[-7,-4.8],[-7,-5.4],[-7,-6],[-6,-6.8],[-5,-6.8],[-4,-6.8],[-3,-6.8],[-2,-6.8],[-1,-6.8],[0,-6.8],[1,-6.8],[2,-6.8],[5,12.2]];
const d15GreyCore: P[] = [[-4.8,-4.8],[-4.2,-4.3],[-3.8,-4.2],[-3.2,-3.8],[-2.8,-3.5],[-2.2,-3.3],[-1.8,-3.0],[-1.2,-2.9],[-0.8,-2.6],[-0.2,-2.5],[0.2,-2.2],[0.8,-2.1],[1.2,-1.8],[1.8,-1.5],[2.2,-1.2],[2.8,-0.9],[3.2,-0.5],[3.8,-0.2],[4.2,0.3],[4.8,0.7],[5.2,1.2],[5.8,1.5],[6.2,2.0],[6.8,2.5],[7.2,3.0],[7.8,3.5],[0.5,-2.9],[1.5,-2.2],[2.5,-1.6],[3.5,-0.8],[-7,-3.3],[-7,-3.9],[-7,-4.5],[-7,-5.1],[-7,-5.7],[-6.5,-6.8],[-5.5,-6.8],[-4.5,-6.8],[-3.5,-6.8],[-2.5,-6.8],[-1.5,-6.8],[-0.5,-6.8],[0.5,-6.8],[1.5,-6.8]];
const d15Two: P[] = [[8.5,8.5],[5.2,7.6],[4.9,4.3],[8,3.5],[7.5,3],[6.5,2.2],[5.6,1.6],[5,0.9],[4.3,0.6],[5.5,0.5],[-0.7,-0.2],[-3.5,-3],[-4.8,-4.6],[-2.8,-4.8],[-6.5,-6.8],[-5,-6.8],[-3.8,-6.8],[-2,-6.8]];
const d15One: P[] = [[6,6],[5,2],[7.8,3.8],[-1.2,-6.8],[-2.4,-6.8]];
const d15Target: P[] = [[6,1.5]];
const d15WT: P[] = [[-2.3,-4.8]];
const d15Notes: Note[] = [
  { x: -6.1, y: 12.1, t: 'R=0.89', c: 'k' },
  { x: 6.3, y: 12.2, t: 'AAUACGUC', c: 's' },
  { x: 9.8, y: 8.8, t: 'UCGACAAA', c: 's' },
  { x: 7.4, y: 1.5, t: 'Target UUGACGAA', c: 'r' },
  { x: -1.5, y: -4.0, t: 'WT UGUAAAUA', c: 'g' },
];
const d15Arrows: Arrow[] = [];

const d16Grey: P[] = [[-3,-3],[-2,-2.2],[-1,-1.5],[0,-0.6],[1,0.2],[2,1],[3,2],[4,2.8],[5,3.6],[6,4.5],[7,5.5],[-2.5,-1],[-1.5,-0.3],[-0.5,0.5],[0.5,1.2],[1.5,2],[2.5,3],[3.5,3.8],[4.5,4.8],[5.5,5.8],[-2,-3.5],[-1,-2.6],[0,-1.8],[1,-1],[2,-0.2],[3,0.6],[4,1.4],[5,2.2],[6,3],[0,1.8],[1,3],[2,4.2],[3,5],[4,6.2],[-1,0.8],[-3,0],[-1.5,2],[0.5,-2.8],[2.5,-1.5],[4.5,-0.5],[6.5,1.5],[7.5,6.5],[5,8.5],[3.5,7],[2,6],[-4,-2],[-0.5,-4.2],[8,7.5],[7,9.7],[3,-3],[-7,3],[-7,2.4],[-7,1.8],[-7,1.2],[-7,0.6],[-7,0],[-7,-0.6],[-7,-1.2],[-7,-1.8],[-7,-2.4],[-7,-3],[-7,-3.6],[-7,-4.2],[-7,-4.8],[-2,-6.9],[-1,-6.9],[0,-6.9],[1,-6.9],[2,-6.9]];
const d16GreyCore: P[] = [[-2.5,-2.5],[-1.5,-1.8],[-0.5,-1.0],[0.5,-0.2],[1.5,0.6],[2.5,1.5],[3.5,2.4],[4.5,3.2],[5.5,4.0],[6.5,5.0],[-2.0,-1.2],[-1.0,-0.4],[0.0,0.3],[1.0,1.0],[2.0,1.8],[3.0,2.6],[4.0,3.4],[5.0,4.4],[-1.5,-2.9],[-0.5,-2.2],[0.5,-1.4],[1.5,-0.6],[2.5,0.2],[3.5,1.0],[4.5,1.8],[0.5,2.6],[1.5,3.6],[2.5,4.0],[-7,2.7],[-7,2.1],[-7,1.5],[-7,0.9],[-7,0.3],[-7,-0.3],[-7,-0.9],[-7,-1.5],[-7,-2.1],[-7,-2.7],[-7,-3.3],[-7,-3.9],[-7,-4.5],[-1.5,-6.9],[-0.5,-6.9],[0.5,-6.9],[1.5,-6.9]];
const d16Two: P[] = [[3.5,5.8],[5,5.5],[2.5,4.8],[1.8,4],[3.5,4],[4.5,3.5],[1.2,3],[2,2.8],[3,2.8],[0.5,2],[1.8,1.5],[1,1.2],[0,0.6],[1.5,0.8],[2.5,0.5],[-0.6,-0.9],[-1,-1.2],[-6.8,-2.3],[-6.8,-6.9],[-1.5,-6.9],[0,-6.9],[3,3.5],[4,4.6]];
const d16One: P[] = [[6.8,8.1],[3.3,2.5],[2.2,1.8],[3.8,1.9],[4.2,1.2],[-1,-0.7],[-6.8,-1.5],[-1.3,-6.9],[2.8,4]];
const d16Target: P[] = [[4.5,4.5]];
const d16WT: P[] = [[-1.8,-1.9]];
const d16Notes: Note[] = [
  { x: -5.75, y: 10.2, t: 'R=0.86', c: 'k' },
  { x: 8.5, y: 9.6, t: 'CUGACACU', c: 's' },
  { x: 10.2, y: 6.8, t: 'UAGACGAA', c: 's' },
  { x: 6.8, y: 4.5, t: 'Target UUGACGAC', c: 'r' },
  { x: 0, y: -2.2, t: 'WT UGUAAAUA', c: 'g' },
];
const d16Arrows: Arrow[] = [];

// ---------------- layout config ----------------
interface Cir { x0: number; p: number; yP: number; yR: number; rx: number; ry: number; fs: number }
interface Design {
  n: number; row: number;
  box: [number, number, number, number];
  cir: Cir; puf: number[]; rna: string; rhl: number[];
  plot: [number, number, number, number];
  xd: [number, number]; yd: [number, number]; xt: number[]; yt: number[]; xdec?: boolean; ydec?: boolean;
  ytx: number;
  grey: P[]; two: P[]; one: P[]; tgt: P[]; wt: P[]; notes: Note[]; arrows: Arrow[];
  legend?: [number, number];
}

const R1: Omit<Cir, 'x0' | 'p'> = { yP: 44.5, yR: 59.5, rx: 6.8, ry: 6.5, fs: 8 };
const R2: Omit<Cir, 'x0' | 'p'> = { yP: 280, yR: 304, rx: 8.2, ry: 9, fs: 9 };
const R3: Omit<Cir, 'x0' | 'p'> = { yP: 541, yR: 565, rx: 8, ry: 9, fs: 9 };
const R4: Omit<Cir, 'x0' | 'p'> = { yP: 798, yR: 818, rx: 6.8, ry: 6.8, fs: 7.5 };
const R4b: Omit<Cir, 'x0' | 'p'> = { yP: 799, yR: 823, rx: 6.8, ry: 6.8, fs: 7.5 };

const designs: Design[] = [
  { n: 1, row: 1, box: [279, 8, 151, 12], cir: { x0: 280, p: 15, ...R1 }, puf: [2, 3], rna: 'UGGAAAUA', rhl: [2],
    plot: [293, 78, 412, 205], xd: [-7.8, 18.7], yd: [-7.0, 8.3], xt: [-4, 0, 4, 8, 12], yt: [-4, 0, 4, 8], ytx: 275,
    grey: [...d1Grey, ...d1GreyCore], two: d1Two, one: d1One, tgt: d1Target, wt: d1WT, notes: d1Notes, arrows: d1Arrows, legend: [387, 195] },
  { n: 2, row: 1, box: [445, 8, 135, 12], cir: { x0: 447, p: 14.75, ...R1 }, puf: [4, 5], rna: 'UGUACGUA', rhl: [4, 5],
    plot: [470, 80, 575, 205], xd: [-7.1, 14.8], yd: [-7.2, 7.3], xt: [-4, 0, 4, 8], yt: [-4, 0, 4], ytx: 452,
    grey: [...d2Grey, ...d2GreyCore], two: d2Two, one: d2One, tgt: d2Target, wt: d2WT, notes: d2Notes, arrows: d2Arrows, legend: [557, 197] },
  { n: 3, row: 1, box: [608, 8, 146, 12], cir: { x0: 605, p: 15.1, ...R1 }, puf: [1, 2], rna: 'UUGAAAUA', rhl: [1, 2],
    plot: [619, 78, 758, 207], xd: [-7.1, 20.2], yd: [-7.3, 9.2], xt: [-4, 0, 4, 8, 12], yt: [-4, 0, 4, 8], ytx: 605,
    grey: [...d3Grey, ...d3GreyCore], two: d3Two, one: d3One, tgt: d3Target, wt: d3WT, notes: d3Notes, arrows: d3Arrows, legend: [724, 197] },
  { n: 4, row: 2, box: [38, 238, 152, 13], cir: { x0: 36, p: 17, ...R2 }, puf: [4, 5, 6], rna: 'UGUACGAA', rhl: [4, 5, 6],
    plot: [57, 322, 182, 458], xd: [-7.5, 21.6], yd: [-7.1, 9.9], xt: [-5, 0, 5, 10, 15, 20], yt: [-5, 0, 5], ytx: 43,
    grey: [...d4Grey, ...d4GreyCore], two: d4Two, one: d4One, tgt: d4Target, wt: d4WT, notes: d4Notes, arrows: d4Arrows, legend: [142, 449] },
  { n: 5, row: 2, box: [223, 238, 145, 13], cir: { x0: 225, p: 17.25, ...R2 }, puf: [4, 5, 7], rna: 'UGUACGUC', rhl: [4, 5, 7],
    plot: [242, 325, 387, 462], xd: [-8.5, 23], yd: [-7.5, 8.8], xt: [-4, 0, 4, 8, 12], yt: [-5, 0, 5], ytx: 227,
    grey: [...d5Grey, ...d5GreyCore], two: d5Two, one: d5One, tgt: d5Target, wt: d5WT, notes: d5Notes, arrows: d5Arrows, legend: [317, 449] },
  { n: 6, row: 2, box: [410, 238, 150, 13], cir: { x0: 408, p: 17.5, ...R2 }, puf: [2, 4, 5], rna: 'UGGACGUA', rhl: [2, 4, 5],
    plot: [430, 323, 547, 462], xd: [-3.3, 8.4], yd: [-6.7, 5.9], xt: [-2, 0, 2, 4, 6, 8], yt: [-5, -2.5, 0, 2.5, 5], ydec: true, ytx: 405,
    grey: [...d6Grey, ...d6GreyCore], two: d6Two, one: d6One, tgt: d6Target, wt: d6WT, notes: d6Notes, arrows: d6Arrows, legend: [505, 445] },
  { n: 7, row: 2, box: [598, 238, 150, 13], cir: { x0: 595, p: 17.25, ...R2 }, puf: [1, 4, 5], rna: 'UUUACGUA', rhl: [1, 4, 5],
    plot: [612, 323, 765, 460], xd: [-6.9, 18.2], yd: [-6.6, 8.7], xt: [-4, 0, 4, 8, 12], yt: [-4, 0, 4, 8], ytx: 592,
    grey: [...d7Grey, ...d7GreyCore], two: d7Two, one: d7One, tgt: d7Target, wt: d7WT, notes: d7Notes, arrows: d7Arrows, legend: [680, 454] },
  { n: 8, row: 3, box: [38, 501, 152, 12], cir: { x0: 37, p: 16.6, ...R3 }, puf: [1, 6, 7], rna: 'UUUAAAAC', rhl: [1, 6, 7],
    plot: [51, 586, 190, 730], xd: [-6.9, 18.4], yd: [-7.4, 7.8], xt: [-4, 0, 4, 8], yt: [-4, 0, 4], ytx: 35,
    grey: [...d8Grey, ...d8GreyCore], two: d8Two, one: d8One, tgt: d8Target, wt: d8WT, notes: d8Notes, arrows: d8Arrows, legend: [123, 717] },
  { n: 9, row: 3, box: [223, 501, 150, 12], cir: { x0: 222, p: 16.4, ...R3 }, puf: [2, 6, 7], rna: 'UGGAAAAC', rhl: [2, 6, 7],
    plot: [239, 586, 372, 730], xd: [-7.0, 14.8], yd: [-7.3, 5.8], xt: [-5, -2.5, 0, 2.5, 5, 7.5, 10], xdec: true, yt: [-5, -2.5, 0, 2.5, 5], ydec: true, ytx: 210,
    grey: [...d9Grey, ...d9GreyCore], two: d9Two, one: d9One, tgt: d9Target, wt: d9WT, notes: d9Notes, arrows: d9Arrows, legend: [313, 715] },
  { n: 10, row: 3, box: [412, 501, 150, 12], cir: { x0: 403, p: 16.3, ...R3 }, puf: [1, 2, 6], rna: 'UUGAAAAA', rhl: [1, 2, 6],
    plot: [422, 585, 558, 730], xd: [-7.2, 15.5], yd: [-6.7, 6.7], xt: [-4, 0, 4, 8, 12], yt: [-4, 0, 4], ytx: 400,
    grey: [...d10Grey, ...d10GreyCore], two: d10Two, one: d10One, tgt: d10Target, wt: d10WT, notes: d10Notes, arrows: d10Arrows, legend: [500, 718] },
  { n: 11, row: 3, box: [600, 501, 152, 12], cir: { x0: 585, p: 16.6, ...R3 }, puf: [1, 2, 7], rna: 'UUGAAAUC', rhl: [1, 2, 7],
    plot: [603, 585, 752, 730], xd: [-7.4, 17], yd: [-7.2, 4.1], xt: [-5, -2.5, 0, 2.5, 5, 7.5], xdec: true, yt: [-5, -2.5, 0, 2.5], ydec: true, ytx: 577,
    grey: [...d11Grey, ...d11GreyCore], two: d11Two, one: d11One, tgt: d11Target, wt: d11WT, notes: d11Notes, arrows: d11Arrows },
  { n: 12, row: 4, box: [15, 760, 141, 11], cir: { x0: 25, p: 14.6, ...R4 }, puf: [4, 5, 6, 7], rna: 'UGUACGAC', rhl: [4, 5, 6, 7],
    plot: [31, 836, 155, 956], xd: [-7.6, 17.8], yd: [-6.9, 8.1], xt: [-4, 0, 4, 8], yt: [-4, 0, 4, 8], ytx: 17,
    grey: [...d12Grey, ...d12GreyCore], two: d12Two, one: d12One, tgt: d12Target, wt: d12WT, notes: d12Notes, arrows: d12Arrows, legend: [110, 946] },
  { n: 13, row: 4, box: [176, 760, 137, 11], cir: { x0: 175, p: 14.1, ...R4 }, puf: [2, 3, 4, 5], rna: 'UGGACGUA', rhl: [2, 3, 4, 5],
    plot: [189, 837, 312, 959], xd: [-9.2, 23.2], yd: [-2.6, 10], xt: [-5, 0, 5, 10, 15], yt: [-2.5, 0, 2.5, 5, 7.5, 10], ydec: true, ytx: 172,
    grey: [...d13Grey, ...d13GreyCore], two: d13Two, one: d13One, tgt: d13Target, wt: d13WT, notes: d13Notes, arrows: d13Arrows, legend: [266, 947] },
  { n: 14, row: 4, box: [330, 760, 137, 11], cir: { x0: 335, p: 14.4, ...R4 }, puf: [1, 2, 6, 7], rna: 'UUGAAAAC', rhl: [1, 2, 6, 7],
    plot: [343, 835, 463, 956], xd: [-7.4, 19.9], yd: [-7.2, 7.3], xt: [-4, 0, 4, 8, 12], yt: [-4, 0, 4], ytx: 328,
    grey: [...d14Grey, ...d14GreyCore], two: d14Two, one: d14One, tgt: d14Target, wt: d14WT, notes: d14Notes, arrows: d14Arrows, legend: [417, 945] },
  { n: 15, row: 4, box: [481, 760, 135, 11], cir: { x0: 483, p: 15, ...R4b }, puf: [1, 2, 4, 5, 6], rna: 'UUGACGAA', rhl: [1, 2, 4, 5, 6],
    plot: [487, 835, 602, 958], xd: [-7.6, 20.5], yd: [-7.5, 13], xt: [-5, 0, 5, 10], yt: [-5, 0, 5, 10], ytx: 470,
    grey: [...d15Grey, ...d15GreyCore], two: d15Two, one: d15One, tgt: d15Target, wt: d15WT, notes: d15Notes, arrows: d15Arrows, legend: [555, 946] },
  { n: 16, row: 4, box: [631, 760, 132, 11], cir: { x0: 631, p: 15.1, ...R4b }, puf: [1, 2, 4, 5, 6, 7], rna: 'UUGACGAC', rhl: [1, 2, 4, 5, 6, 7],
    plot: [643, 838, 763, 962], xd: [-8, 22], yd: [-7.2, 10.7], xt: [-5, 0, 5, 10], yt: [-5, 0, 5, 10], ytx: 627,
    grey: [...d16Grey, ...d16GreyCore], two: d16Two, one: d16One, tgt: d16Target, wt: d16WT, notes: d16Notes, arrows: d16Arrows, legend: [723, 952] },
];

const rowStyle: Record<number, { xty: number; fsT: number; fsTick: number; fsNote: number; fsR: number }> = {
  1: { xty: 224, fsT: 7.2, fsTick: 6, fsNote: 6.5, fsR: 6 },
  2: { xty: 484, fsT: 8, fsTick: 6.5, fsNote: 8, fsR: 7 },
  3: { xty: 748, fsT: 8, fsTick: 6.5, fsNote: 8, fsR: 7 },
  4: { xty: 975, fsT: 7.2, fsTick: 6.2, fsNote: 7.8, fsR: 6.8 },
};

const xy = (a: P[]) => a.map(([x, y]) => ({ x, y }));
const dot = (r: number, fill: string) => (p: any) => <circle cx={p.cx} cy={p.cy} r={r} fill={fill} />;

function Plot({ d }: { d: Design }) {
  const st = rowStyle[d.row];
  const ML = 30, MT = 8, MR = 80, XH = 16;
  const [x0, y0, x1, y1] = d.plot;
  const w = x1 - x0 + ML + MR;
  const h = y1 - y0 + MT + XH;
  const noteColor = { k: COL.k, s: COL.seq, r: COL.red, g: COL.green };
  const noteShape = (p: any) => {
    const n = (p.payload || p) as Note;
    return (
      <text x={p.cx} y={p.cy} fill={noteColor[n.c]} fontSize={n.c === 'k' ? st.fsR : st.fsNote} fontWeight="bold"
        textAnchor={n.a || 'start'} dominantBaseline="central">{n.t}</text>
    );
  };
  const fmtX = (v: number) => (d.xdec ? v.toFixed(1) : String(v));
  const fmtY = (v: number) => (d.ydec ? v.toFixed(1) : String(v));
  return (
    <div style={{ position: 'absolute', left: x0 - ML, top: y0 - MT, width: w, height: h }}>
      <ScatterChart width={w} height={h} margin={{ top: MT, right: MR, bottom: 0, left: 0 }}>
        <XAxis type="number" dataKey="x" domain={d.xd} ticks={d.xt} interval={0} height={XH} tickSize={2.5} tickMargin={1}
          axisLine={{ stroke: '#000', strokeWidth: 1 }} tickLine={{ stroke: '#000' }} tick={{ fontSize: st.fsTick, fill: '#4d4d4d' }}
          tickFormatter={fmtX} />
        <YAxis type="number" dataKey="y" domain={d.yd} ticks={d.yt} interval={0} width={ML} tickSize={2.5} tickMargin={1}
          axisLine={{ stroke: '#000', strokeWidth: 1 }} tickLine={{ stroke: '#000' }} tick={{ fontSize: st.fsTick, fill: '#4d4d4d' }}
          tickFormatter={fmtY} />
        <Scatter data={xy(d.grey)} shape={dot(1.35, COL.grey)} isAnimationActive={false} />
        <Scatter data={xy(d.two)} shape={dot(2.3, COL.two)} isAnimationActive={false} />
        <Scatter data={xy(d.one)} shape={dot(2.3, COL.one)} isAnimationActive={false} />
        <Scatter data={xy(d.tgt)} shape={dot(2.0, COL.red)} isAnimationActive={false} />
        <Scatter data={xy(d.wt)} shape={dot(2.3, COL.green)} isAnimationActive={false} />
        {d.arrows.map((a, i) => (
          <ReferenceLine key={i} segment={[{ x: a.f[0], y: a.f[1] }, { x: a.to[0], y: a.to[1] }]}
            stroke={a.c === 'g' ? COL.green : COL.red} strokeWidth={1.3} ifOverflow="visible"
            markerEnd={a.c === 'g' ? 'url(#arrG)' : 'url(#arrR)'} />
        ))}
        <Scatter data={d.notes.map((n) => ({ ...n }))} shape={noteShape} isAnimationActive={false} />
      </ScatterChart>
    </div>
  );
}

function Diagram({ d }: { d: Design }) {
  const { x0, p, yP, yR, rx, ry, fs } = d.cir;
  const [bx, by, bw, bh] = d.box;
  const cx = (i: number) => x0 + p * (i + 0.5);
  const st = rowStyle[d.row];
  const [px0, py0, px1, py1] = d.plot;
  const lblX = x0 + 8 * p + 4;
  return (
    <g>
      <rect x={bx} y={by} width={bw} height={bh} fill="#fff" stroke="#333" strokeWidth={1.2} />
      <text x={bx + bw / 2} y={by + bh / 2 + 0.5} fontSize={10} fontWeight="bold" textAnchor="middle" dominantBaseline="central" fill="#111">
        {`Design ${d.n}`}
      </text>
      {d.puf.map((i) => <rect key={'pb' + i} x={x0 + p * i} y={yP - ry - 1.2} width={p} height={2 * ry + 2.4} fill="#d9d9d9" />)}
      {d.rhl.map((i) => <rect key={'rb' + i} x={x0 + p * i} y={yR - ry - 1.2} width={p} height={2 * ry + 2.4} fill="#d9d9d9" />)}
      {Array.from({ length: 8 }, (_, i) => (
        <g key={'c' + i}>
          <ellipse cx={cx(i)} cy={yP} rx={rx} ry={ry} fill={d.puf.includes(i) ? '#c6c6c6' : '#fff'} stroke="#111" strokeWidth={1.3} />
          <text x={cx(i)} y={yP + 0.5} fontSize={fs} textAnchor="middle" dominantBaseline="central" fill="#111">{8 - i}</text>
          <ellipse cx={cx(i)} cy={yR} rx={rx} ry={ry} fill={d.rhl.includes(i) ? '#c6c6c6' : '#fff'} stroke="#111" strokeWidth={1.3} />
          <text x={cx(i)} y={yR + 0.5} fontSize={fs} textAnchor="middle" dominantBaseline="central" fill="#111">{d.rna[i]}</text>
        </g>
      ))}
      {d.puf.map((i) => (
        <text key={'t' + i} x={cx(i) - 2} y={yP - ry - 2} fontSize={5.8} fill="#222"
          transform={`rotate(-45 ${cx(i) - 2} ${yP - ry - 2})`}>{pufTags[i]}</text>
      ))}
      <text x={lblX} y={yP} fontSize={fs} dominantBaseline="central" fill="#111">PUF</text>
      <text x={lblX} y={yR - fs * 0.55} fontSize={fs} dominantBaseline="central" fill="#111">target</text>
      <text x={lblX} y={yR + fs * 0.6} fontSize={fs} dominantBaseline="central" fill="#111">RNA</text>
      <text x={(px0 + px1) / 2} y={st.xty} fontSize={st.fsT} textAnchor="middle" dominantBaseline="central" fill="#222">
        PUF-RNA interaction replicate 1
      </text>
      <text x={d.ytx} y={(py0 + py1) / 2} fontSize={st.fsT} textAnchor="middle" dominantBaseline="central" fill="#222"
        transform={`rotate(-90 ${d.ytx} ${(py0 + py1) / 2})`}>PUF-RNA interaction replicate 2</text>
      {d.legend && (
        <g>
          <circle cx={d.legend[0]} cy={d.legend[1]} r={1.8} fill={COL.two} />
          <text x={d.legend[0] + 4} y={d.legend[1]} fontSize={4.8} dominantBaseline="central" fill="#333">two_mismatch</text>
          <circle cx={d.legend[0]} cy={d.legend[1] + 6.5} r={1.8} fill={COL.one} />
          <text x={d.legend[0] + 4} y={d.legend[1] + 6.5} fontSize={4.8} dominantBaseline="central" fill="#333">one_mismatch</text>
        </g>
      )}
    </g>
  );
}

function SeqRow({ x, y, seq, hl }: { x: number; y: number; seq: string; hl: number[] }) {
  const pitch = 10.75;
  return (
    <g>
      {seq.split('').map((ch, i) => (
        <g key={i}>
          <ellipse cx={x + i * pitch} cy={y} rx={5} ry={5.2} fill={hl.includes(i) ? '#b4b4b4' : '#fff'} stroke="#111" strokeWidth={0.9} />
          <text x={x + i * pitch} y={y + 0.4} fontSize={5.6} textAnchor="middle" dominantBaseline="central" fill="#111">{ch}</text>
        </g>
      ))}
    </g>
  );
}

function PanelA() {
  const rowY = (i: number) => 74 + i * 11.9;
  const g = '#a8a8a8';
  const ln = '#bdbdbd';
  return (
    <g>
      <text x={0} y={19} fontSize={21} fontWeight="bold" fill="#111">A</text>
      <text x={32} y={40} fontSize={10.2} fontWeight="bold" dominantBaseline="central" fill="#111">Eight base target RNA sequences</text>
      {seqLeft.map((s, i) => <SeqRow key={'l' + i} x={12.5} y={rowY(i)} seq={s} hl={hlLeft[i]} />)}
      {seqRight.map((s, i) => <SeqRow key={'r' + i} x={105} y={rowY(i + 7)} seq={s} hl={hlRight[i]} />)}
      <line x1={97} y1={rowY(0) - 5} x2={97} y2={rowY(0) + 5} stroke={ln} strokeWidth={0.8} />
      <line x1={97} y1={rowY(1) - 5} x2={97} y2={rowY(1) + 5} stroke={ln} strokeWidth={0.8} />
      <line x1={97} y1={rowY(2) - 5} x2={97} y2={rowY(3) + 5} stroke={ln} strokeWidth={0.8} />
      <line x1={97} y1={rowY(4) - 5} x2={97} y2={rowY(11) + 5} stroke={ln} strokeWidth={0.8} />
      <line x1={97} y1={rowY(4) - 5} x2={108} y2={rowY(4) - 5} stroke={ln} strokeWidth={0.8} />
      <line x1={108} y1={rowY(4) - 5} x2={98} y2={rowY(11) + 5} stroke={ln} strokeWidth={0.8} />
      <text x={102} y={rowY(0)} fontSize={7.5} fill={g} dominantBaseline="central">{groupLeft[0]}</text>
      <text x={102} y={rowY(1)} fontSize={7.5} fill={g} dominantBaseline="central">{groupLeft[1]}</text>
      <text x={102} y={(rowY(2) + rowY(3)) / 2} fontSize={7.5} fill={g} dominantBaseline="central">{groupLeft[2]}</text>
      <text x={110} y={rowY(4) - 3} fontSize={7.5} fill={g} dominantBaseline="central">{groupLeft[3]}</text>
      <line x1={191} y1={rowY(7) - 5} x2={191} y2={rowY(9) + 5} stroke={ln} strokeWidth={0.8} />
      <line x1={191} y1={rowY(10) - 5} x2={191} y2={rowY(10) + 5} stroke={ln} strokeWidth={0.8} />
      <line x1={191} y1={rowY(11) - 5} x2={191} y2={rowY(11) + 5} stroke={ln} strokeWidth={0.8} />
      <text x={196} y={rowY(8)} fontSize={7.5} fill={g} dominantBaseline="central">{groupRight[0]}</text>
      <text x={196} y={rowY(10)} fontSize={7.5} fill={g} dominantBaseline="central">{groupRight[1]}</text>
      <text x={196} y={rowY(11)} fontSize={7.5} fill={g} dominantBaseline="central">{groupRight[2]}</text>
    </g>
  );
}

export default function App() {
  return (
    <div style={{ position: 'absolute', left: 0, top: 0, width: 776, height: 982, background: '#fff', fontFamily: FONT, overflow: 'hidden' }}>
      <svg width={0} height={0} style={{ position: 'absolute' }}>
        <defs>
          <marker id="arrG" viewBox="0 0 10 10" refX="9" refY="5" markerWidth="5" markerHeight="5" orient="auto" markerUnits="userSpaceOnUse">
            <path d="M0,0 L10,5 L0,10 z" fill={COL.green} />
          </marker>
          <marker id="arrR" viewBox="0 0 10 10" refX="9" refY="5" markerWidth="5" markerHeight="5" orient="auto" markerUnits="userSpaceOnUse">
            <path d="M0,0 L10,5 L0,10 z" fill={COL.red} />
          </marker>
        </defs>
      </svg>
      <svg width={776} height={982} style={{ position: 'absolute', left: 0, top: 0, fontFamily: FONT }}>
        <PanelA />
        <text x={243} y={18} fontSize={21} fontWeight="bold" fill="#111">B</text>
        {designs.map((d) => <Diagram key={d.n} d={d} />)}
      </svg>
      {designs.map((d) => <Plot key={d.n} d={d} />)}
    </div>
  );
}
